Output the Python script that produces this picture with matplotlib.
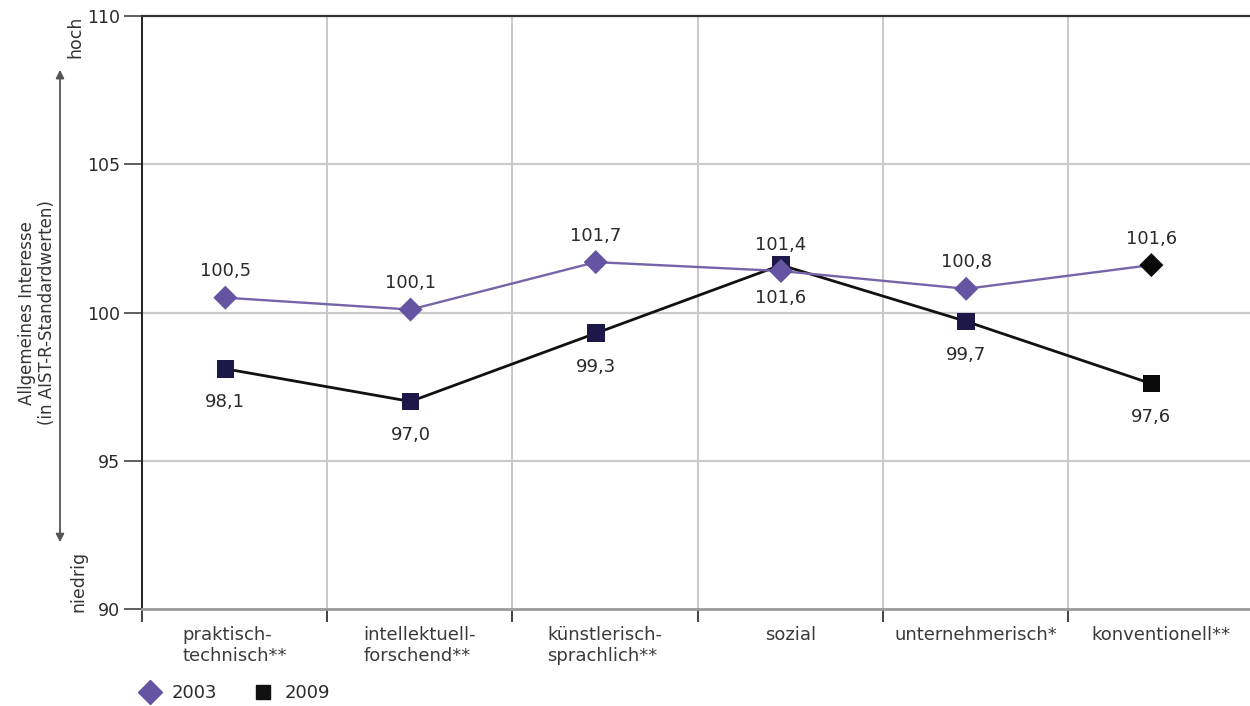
import numpy as np
import matplotlib
matplotlib.use("Agg")
import matplotlib.pyplot as plt
from matplotlib.lines import Line2D

plt.rcParams['font.family'] = ['DejaVu Sans']

# Interest dimensions (AIST-R) and mean standard scores per survey year
categories = ["praktisch-\ntechnisch**", "intellektuell-\nforschend**", "künstlerisch-\nsprachlich**",
              "sozial", "unternehmerisch*", "konventionell**"]
values_2003 = [100.5, 100.1, 101.7, 101.4, 100.8, 101.6]
values_2009 = [98.1, 97.0, 99.3, 101.6, 99.7, 97.6]
labels_2003 = ["100,5", "100,1", "101,7", "101,4", "100,8", "101,6"]
labels_2009 = ["98,1", "97,0", "99,3", "101,6", "99,7", "97,6"]
series_names = ["2003", "2009"]
y_ticks = [90, 95, 100, 105, 110]

c2003 = "#6554a2"
c2003_line = "#7565a8"
c2009 = "#1c1848"
txt = "#2a2a2a"

fig = plt.figure(figsize=(12.5, 7.06), dpi=100)
ax = fig.add_axes([0.1136, 0.1374, 0.889, 0.8399])

n = len(categories)
x = np.arange(n) - 0.05

# grid
for b in np.arange(0.5, n - 0.5):
    ax.axvline(b, color="#c4c4c4", lw=1.3, zorder=1)
for yv in [95, 100, 105]:
    ax.axhline(yv, color="#cacaca", lw=1.6, zorder=1)

# lines
ax.plot(x, values_2009, color="#111111", lw=2.0, zorder=3)
ax.plot(x, values_2003, color=c2003_line, lw=1.7, zorder=4)

# markers (last category printed in black)
cols_2009 = [c2009] * (n - 1) + ["#0a0a0a"]
cols_2003 = [c2003] * (n - 1) + ["#0a0a0a"]
ax.scatter(x, values_2009, marker="s", s=160, c=cols_2009, zorder=5, linewidths=0)
ax.scatter(x, values_2003, marker="D", s=150, c=cols_2003, zorder=6, linewidths=0)

# value labels
for xi, v, lab in zip(x, values_2003, labels_2003):
    ax.annotate(lab, (xi, v), xytext=(0, 19), textcoords="offset points",
                ha="center", va="center", fontsize=13, color=txt, zorder=7)
for xi, v, lab in zip(x, values_2009, labels_2009):
    ax.annotate(lab, (xi, v), xytext=(0, -24), textcoords="offset points",
                ha="center", va="center", fontsize=13, color=txt, zorder=7)

ax.set_xlim(-0.5, n - 0.5)
ax.set_ylim(90, 110)

# axes frame
ax.spines["right"].set_visible(False)
ax.spines["top"].set_color("#333333")
ax.spines["top"].set_linewidth(1.6)
ax.spines["bottom"].set_color("#9a9a9a")
ax.spines["bottom"].set_linewidth(2.0)
ax.spines["left"].set_color("#222222")
ax.spines["left"].set_linewidth(1.4)

ax.set_yticks(y_ticks)
ax.set_yticklabels([str(t) for t in y_ticks])
ax.tick_params(axis="y", length=13, width=1.1, color="#333333", pad=3,
               labelsize=12.5, labelcolor=txt)

ax.set_xticks(np.arange(-0.5, n))
ax.set_xticklabels([])
ax.tick_params(axis="x", length=9, width=1.2, color="#222222", direction="out")

# category labels under each column
for i, cat in enumerate(categories):
    ax.annotate(cat, (i, 0), xycoords=("data", "axes fraction"), xytext=(0, -12),
                textcoords="offset points", ha="center", va="top",
                multialignment="left", fontsize=13, color="#3a3a3a",
                linespacing=1.25)

# y axis description with direction arrow
fig.text(0.0295, 0.557, "Allgemeines Interesse\n(in AIST-R-Standardwerten)",
         rotation=90, ha="center", va="center", fontsize=12, color="#333333",
         multialignment="center", linespacing=1.15)
fig.text(0.060, 0.948, "hoch", rotation=90, ha="center", va="center",
         fontsize=12.5, color="#333333")
fig.text(0.0625, 0.177, "niedrig", rotation=90, ha="center", va="center",
         fontsize=12.5, color="#333333")
fig.add_artist(matplotlib.patches.FancyArrowPatch(
    (0.048, 0.228), (0.048, 0.905), transform=fig.transFigure,
    arrowstyle="<|-|>", mutation_scale=12, color="#555555", lw=1.3))

# legend
handles = [Line2D([], [], marker="D", ls="none", color=c2003, markersize=12),
           Line2D([], [], marker="s", ls="none", color="#111111", markersize=10)]
fig.legend(handles, series_names, loc="center left", bbox_to_anchor=(0.113, 0.018),
           ncol=2, frameon=False, fontsize=13, handlelength=1.0, handletextpad=0.7,
           columnspacing=2.0, borderpad=0, borderaxespad=0,
           labelcolor=txt)

fig.savefig("out.png", dpi=100)
